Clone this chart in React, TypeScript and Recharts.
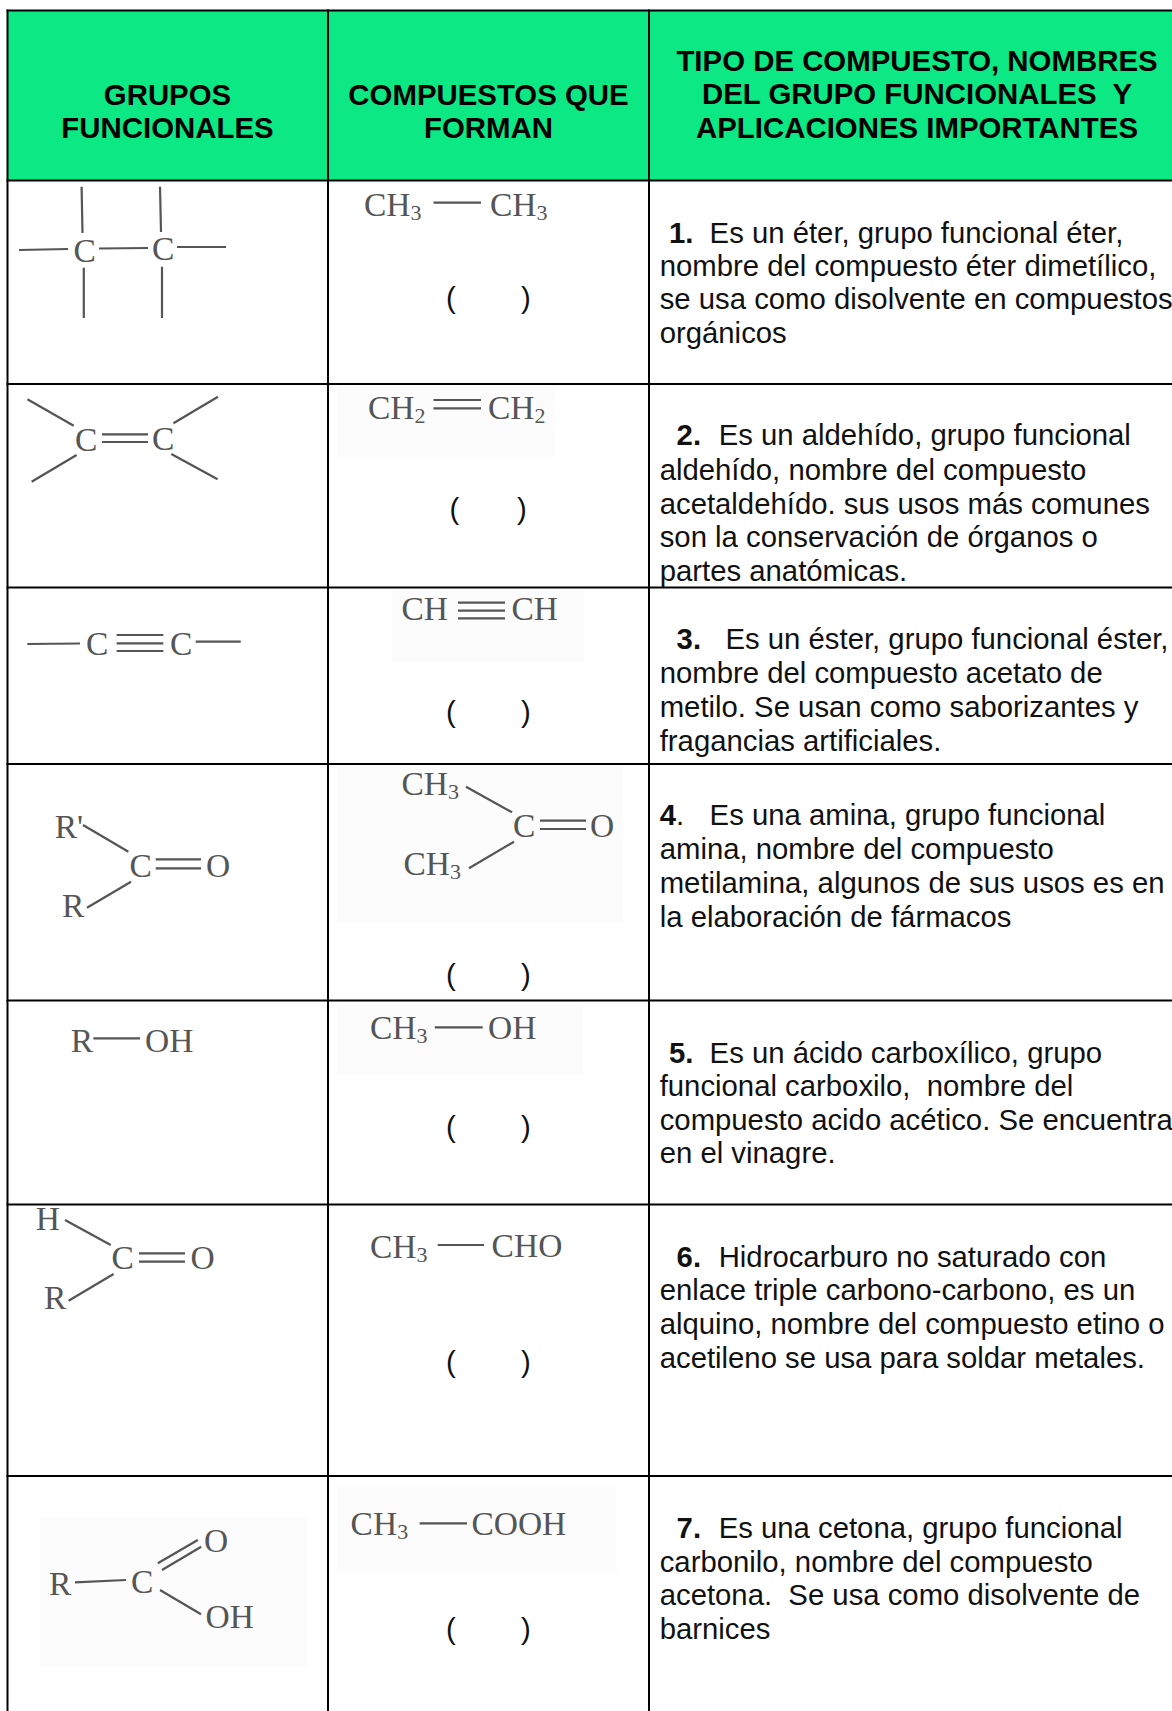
import React from 'react';
import { ScatterChart, Scatter, XAxis, YAxis, ReferenceArea, ReferenceLine } from 'recharts';

const WIDTH = 1172;
const HEIGHT = 1711;

const columnEdges = [7.5, 328, 649];
const rowEdges = [10.5, 180.5, 384, 587.5, 764, 1000.5, 1204.5, 1476];

const headerBand = { x1: 7, x2: 1172, y1: 10, y2: 180 };

// faint scan shadows behind some of the pasted formulas
const scanPatches = [
  [337, 555, 386, 457],
  [392, 585, 589, 662],
  [337, 623, 766, 923],
  [337, 583, 1002, 1075],
  [40, 307, 1517, 1667],
  [337, 617, 1487, 1573],
];

const headerLabels = [
  { x: 167.5, y: 105, text: 'GRUPOS' },
  { x: 167.5, y: 137.7, text: 'FUNCIONALES' },
  { x: 488.5, y: 105, text: 'COMPUESTOS QUE' },
  { x: 488.5, y: 137.7, text: 'FORMAN' },
  { x: 917, y: 70.7, text: 'TIPO DE COMPUESTO, NOMBRES' },
  { x: 917, y: 104.3, text: 'DEL GRUPO FUNCIONALES  Y' },
  { x: 917, y: 137.7, text: 'APLICACIONES IMPORTANTES' },
];

const itemNumbers = [
  { x: 669, y: 242.7, text: '1.' },
  { x: 676.6, y: 445.3, text: '2.' },
  { x: 676.6, y: 649.3, text: '3.' },
  { x: 659.7, y: 825.3, text: '4' },
  { x: 669, y: 1062.7, text: '5.' },
  { x: 676.6, y: 1266.7, text: '6.' },
  { x: 676.6, y: 1537.7, text: '7.' },
];

const descriptionLines = [
  { x: 709.6, y: 242.7, text: 'Es un éter, grupo funcional éter,' },
  { x: 659.7, y: 276, text: 'nombre del compuesto éter dimetílico,' },
  { x: 659.7, y: 309.3, text: 'se usa como disolvente en compuestos' },
  { x: 659.7, y: 342.7, text: 'orgánicos' },
  { x: 718.7, y: 445.3, text: 'Es un aldehído, grupo funcional' },
  { x: 659.7, y: 480.3, text: 'aldehído, nombre del compuesto' },
  { x: 659.7, y: 513.7, text: 'acetaldehído. sus usos más comunes' },
  { x: 659.7, y: 547, text: 'son la conservación de órganos o' },
  { x: 659.7, y: 581, text: 'partes anatómicas.' },
  { x: 725.5, y: 649.3, text: 'Es un éster, grupo funcional éster,' },
  { x: 659.7, y: 682.7, text: 'nombre del compuesto acetato de' },
  { x: 659.7, y: 716.7, text: 'metilo. Se usan como saborizantes y' },
  { x: 659.7, y: 751, text: 'fragancias artificiales.' },
  { x: 676, y: 825.3, text: '.' },
  { x: 709.6, y: 825.3, text: 'Es una amina, grupo funcional' },
  { x: 659.7, y: 859.3, text: 'amina, nombre del compuesto' },
  { x: 659.7, y: 893.3, text: 'metilamina, algunos de sus usos es en' },
  { x: 659.7, y: 926.7, text: 'la elaboración de fármacos' },
  { x: 709.6, y: 1062.7, text: 'Es un ácido carboxílico, grupo' },
  { x: 659.7, y: 1096, text: 'funcional carboxilo,  nombre del' },
  { x: 659.7, y: 1130, text: 'compuesto acido acético. Se encuentra' },
  { x: 659.7, y: 1163.3, text: 'en el vinagre.' },
  { x: 718.7, y: 1266.7, text: 'Hidrocarburo no saturado con' },
  { x: 659.7, y: 1300.3, text: 'enlace triple carbono-carbono, es un' },
  { x: 659.7, y: 1334.3, text: 'alquino, nombre del compuesto etino o' },
  { x: 659.7, y: 1367.7, text: 'acetileno se usa para soldar metales.' },
  { x: 718.7, y: 1537.7, text: 'Es una cetona, grupo funcional' },
  { x: 659.7, y: 1571.7, text: 'carbonilo, nombre del compuesto' },
  { x: 659.7, y: 1605.3, text: 'acetona.  Se usa como disolvente de' },
  { x: 659.7, y: 1638.7, text: 'barnices' },
];

const answerParens = [
  { x: 446, y: 308, text: '(' },
  { x: 521, y: 308, text: ')' },
  { x: 449.5, y: 519, text: '(' },
  { x: 517, y: 519, text: ')' },
  { x: 446, y: 722, text: '(' },
  { x: 521, y: 722, text: ')' },
  { x: 446, y: 984.7, text: '(' },
  { x: 521, y: 984.7, text: ')' },
  { x: 446, y: 1137, text: '(' },
  { x: 521, y: 1137, text: ')' },
  { x: 446, y: 1372, text: '(' },
  { x: 521, y: 1372, text: ')' },
  { x: 446, y: 1639, text: '(' },
  { x: 521, y: 1639, text: ')' },
];

// atom and formula labels, digits become subscripts
const formulaLabels = [
  { x: 73.5, y: 261.5, text: 'C' },
  { x: 152, y: 259.5, text: 'C' },
  { x: 364, y: 216, text: 'CH3' },
  { x: 490, y: 216, text: 'CH3' },
  { x: 75, y: 450.5, text: 'C' },
  { x: 152, y: 450, text: 'C' },
  { x: 368, y: 418.5, text: 'CH2' },
  { x: 488, y: 418.5, text: 'CH2' },
  { x: 86, y: 655, text: 'C' },
  { x: 170, y: 654.7, text: 'C' },
  { x: 401.5, y: 620, text: 'CH' },
  { x: 511.5, y: 620, text: 'CH' },
  { x: 54.7, y: 837.5, text: "R'" },
  { x: 129.5, y: 876.5, text: 'C' },
  { x: 206, y: 876.5, text: 'O' },
  { x: 62, y: 917, text: 'R' },
  { x: 401.5, y: 795, text: 'CH3' },
  { x: 513, y: 836.7, text: 'C' },
  { x: 590, y: 836.7, text: 'O' },
  { x: 403.5, y: 875, text: 'CH3' },
  { x: 70.7, y: 1051.5, text: 'R' },
  { x: 145, y: 1051.5, text: 'OH' },
  { x: 370, y: 1039, text: 'CH3' },
  { x: 488, y: 1039, text: 'OH' },
  { x: 35.8, y: 1230, text: 'H' },
  { x: 111.5, y: 1269, text: 'C' },
  { x: 190.5, y: 1269, text: 'O' },
  { x: 44, y: 1308.5, text: 'R' },
  { x: 370, y: 1257.5, text: 'CH3' },
  { x: 491.6, y: 1257, text: 'CHO' },
  { x: 49, y: 1595, text: 'R' },
  { x: 131, y: 1592.5, text: 'C' },
  { x: 204, y: 1551.5, text: 'O' },
  { x: 205.5, y: 1627.5, text: 'OH' },
  { x: 350.6, y: 1535, text: 'CH3' },
  { x: 471.4, y: 1535, text: 'COOH' },
];

// x1, y1, x2, y2 of every drawn bond
const bonds = [
  [81.6, 186.7, 82.5, 233],
  [160, 186.7, 161, 232],
  [83.8, 267.7, 83.8, 318],
  [162, 266.7, 162, 318],
  [19, 250, 68, 249],
  [99, 248.5, 148, 248],
  [177, 247, 226, 247],
  [433.5, 202.7, 481, 202.7],
  [27.4, 399.3, 73.7, 425.7],
  [218, 396.7, 173.4, 423.3],
  [76.6, 455, 31.6, 481.7],
  [171.3, 454, 217.6, 479.3],
  [102, 434.3, 148, 434.3],
  [102, 442, 148, 442],
  [433.5, 400, 481, 400],
  [433.5, 408.3, 481, 408.3],
  [27.4, 644, 80, 643.5],
  [195.7, 641.7, 240.7, 641.7],
  [116.6, 635, 163.3, 635],
  [116.6, 643.3, 163.3, 643.3],
  [116.6, 651, 163.3, 651],
  [458, 602.7, 505, 602.7],
  [458, 610.7, 505, 610.7],
  [458, 618.3, 505, 618.3],
  [83, 825, 128.4, 851.7],
  [155.7, 859.3, 201, 859.3],
  [155.7, 868.3, 201, 868.3],
  [131, 881.7, 87, 907.7],
  [466, 786.7, 512, 812.3],
  [540, 820.7, 586, 820.7],
  [540, 829, 586, 829],
  [514, 841.7, 469, 868.3],
  [93.4, 1038.3, 140, 1038.3],
  [434.8, 1027.3, 482.7, 1027.3],
  [65, 1220, 110.7, 1245],
  [139, 1253.3, 185, 1253.3],
  [139, 1261.7, 185, 1261.7],
  [113.6, 1274, 68.6, 1300.7],
  [437.7, 1245, 484, 1245],
  [75, 1582.3, 126, 1580],
  [157.8, 1563.3, 197.8, 1540],
  [162, 1570, 201.2, 1546.7],
  [160, 1590, 201, 1614.3],
  [419.6, 1523.3, 467, 1523.3],
];

const SANS = '"Liberation Sans", Arial, sans-serif';
const SERIF = '"Liberation Serif", "Times New Roman", serif';

const HeaderText = ({ cx, cy, payload }: any) => (
  <text x={cx} y={cy} textAnchor="middle" fontFamily={SANS} fontWeight="bold" fontSize={29.4} fill="#000" style={{ whiteSpace: 'pre' }}>
    {payload.text}
  </text>
);

const NumberText = ({ cx, cy, payload }: any) => (
  <text x={cx} y={cy} fontFamily={SANS} fontWeight="bold" fontSize={29.3} fill="#111">
    {payload.text}
  </text>
);

const BodyText = ({ cx, cy, payload }: any) => (
  <text x={cx} y={cy} fontFamily={SANS} fontSize={29.3} fill="#111" style={{ whiteSpace: 'pre' }}>
    {payload.text}
  </text>
);

const FormulaText = ({ cx, cy, payload }: any) => {
  const parts: string[] = payload.text.match(/\d|[^\d]+/g);
  return (
    <text x={cx} y={cy} fontFamily={SERIF} fontSize={33.5} fill="#555">
      {parts.map((part, i) =>
        /\d/.test(part) ? (
          <tspan key={i} fontSize={22} dy={4}>
            {part}
          </tspan>
        ) : (
          <tspan key={i}>{part}</tspan>
        ),
      )}
    </text>
  );
};

export default function App() {
  return (
    <div style={{ position: 'absolute', left: 0, top: 0, width: WIDTH, height: HEIGHT, background: '#fff' }}>
      <ScatterChart width={WIDTH} height={HEIGHT} margin={{ top: 0, right: 0, bottom: 0, left: 0 }}>
        <XAxis type="number" dataKey="x" domain={[0, WIDTH]} hide />
        <YAxis type="number" dataKey="y" domain={[0, HEIGHT]} reversed hide />

        <ReferenceArea {...headerBand} fill="#0be884" fillOpacity={1} stroke="none" ifOverflow="visible" />
        {scanPatches.map(([x1, x2, y1, y2], i) => (
          <ReferenceArea key={`patch-${i}`} x1={x1} x2={x2} y1={y1} y2={y2} fill="#fcfcfc" fillOpacity={1} stroke="none" />
        ))}

        {columnEdges.map((x) => (
          <ReferenceLine key={`col-${x}`} segment={[{ x, y: rowEdges[0] - 1 }, { x, y: HEIGHT }]} stroke="#000" strokeWidth={2} />
        ))}
        {rowEdges.map((y) => (
          <ReferenceLine key={`row-${y}`} segment={[{ x: columnEdges[0] - 1, y }, { x: WIDTH, y }]} stroke="#000" strokeWidth={2} />
        ))}

        {bonds.map(([x1, y1, x2, y2], i) => (
          <ReferenceLine key={`bond-${i}`} segment={[{ x: x1, y: y1 }, { x: x2, y: y2 }]} stroke="#555" strokeWidth={2.2} />
        ))}

        <Scatter data={formulaLabels} shape={FormulaText} isAnimationActive={false} />
        <Scatter data={headerLabels} shape={HeaderText} isAnimationActive={false} />
        <Scatter data={itemNumbers} shape={NumberText} isAnimationActive={false} />
        <Scatter data={descriptionLines} shape={BodyText} isAnimationActive={false} />
        <Scatter data={answerParens} shape={BodyText} isAnimationActive={false} />
      </ScatterChart>
    </div>
  );
}
